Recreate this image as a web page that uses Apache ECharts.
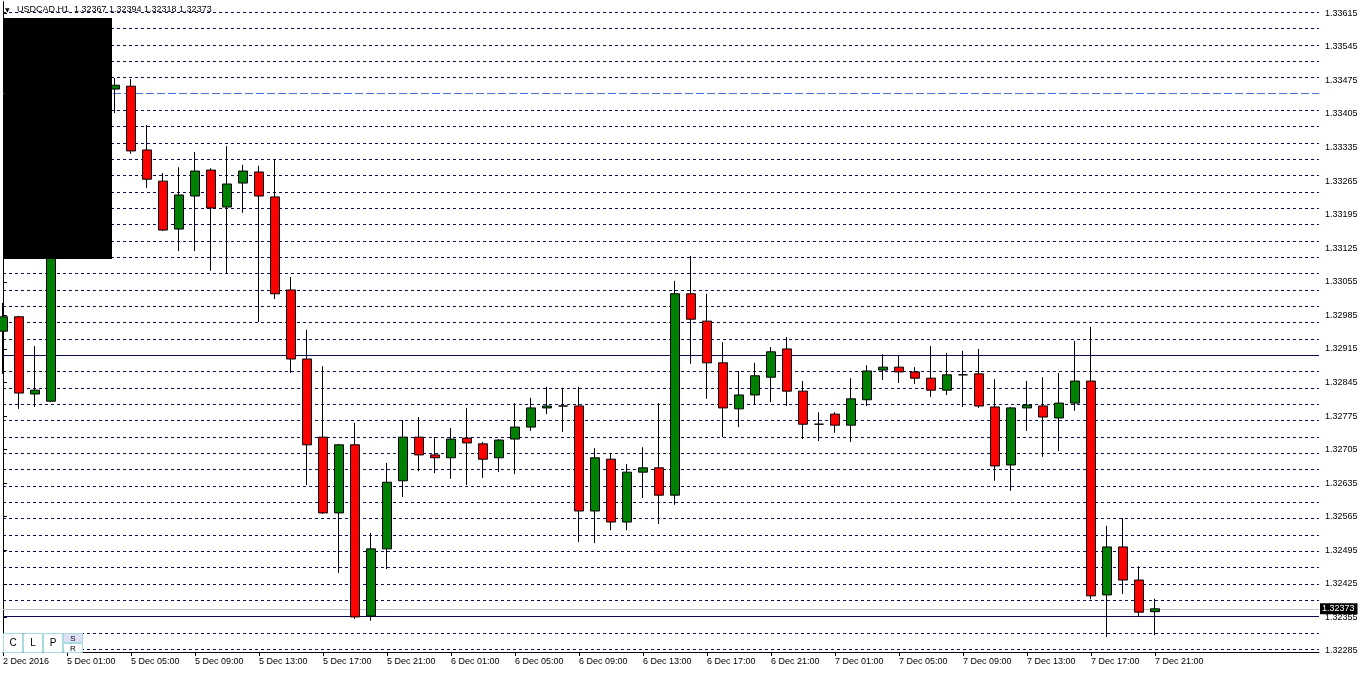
<!DOCTYPE html>
<html><head><meta charset="utf-8">
<script src="https://cdn.jsdelivr.net/npm/echarts@6/dist/echarts.min.js"></script>
<style>html,body{margin:0;padding:0;background:#fff}#c{width:1362px;height:675px}</style>
</head><body><div id="c"></div><script>
const opens = [1.32952,1.32982,1.32821,1.32806,1.33330,1.33413,1.33392,1.33457,1.33463,1.33330,
1.33265,1.33165,1.33234,1.33288,1.33211,1.33261,1.33284,1.33232,1.33038,1.32894,
1.32731,1.32573,1.32715,1.32358,1.32498,1.32640,1.32731,1.32694,1.32688,1.32729,
1.32717,1.32688,1.32727,1.32752,1.32792,1.32796,1.32796,1.32577,1.32685,1.32554,
1.32658,1.32667,1.32610,1.33030,1.32973,1.32886,1.32790,1.32819,1.32856,1.32915,
1.32827,1.32758,1.32779,1.32756,1.32809,1.32871,1.32877,1.32867,1.32854,1.32829,
1.32861,1.32863,1.32794,1.32673,1.32792,1.32796,1.32771,1.32802,1.32848,1.32402,
1.32502,1.32433,1.32367];
const closes = [1.32982,1.32823,1.32829,1.33330,1.33413,1.33392,1.33457,1.33465,1.33328,1.33269,
1.33163,1.33236,1.33286,1.33209,1.33259,1.33286,1.33234,1.33030,1.32894,1.32715,
1.32573,1.32715,1.32356,1.32498,1.32637,1.32731,1.32694,1.32688,1.32727,1.32719,
1.32685,1.32725,1.32752,1.32792,1.32796,1.32796,1.32577,1.32688,1.32554,1.32658,
1.32667,1.32610,1.33030,1.32977,1.32886,1.32792,1.32819,1.32859,1.32909,1.32827,
1.32758,1.32758,1.32756,1.32811,1.32869,1.32877,1.32867,1.32854,1.32829,1.32861,
1.32861,1.32796,1.32671,1.32792,1.32798,1.32773,1.32802,1.32848,1.32400,1.32502,
1.32433,1.32366,1.32373];
const highs = [1.33011,1.32984,1.32921,1.33351,1.33434,1.33445,1.33476,1.33480,1.33478,1.33382,
1.33282,1.33294,1.33326,1.33292,1.33338,1.33299,1.33297,1.33311,1.33065,1.32955,
1.32879,1.32717,1.32761,1.32531,1.32677,1.32767,1.32773,1.32731,1.32750,1.32792,
1.32721,1.32727,1.32802,1.32813,1.32836,1.32834,1.32836,1.32708,1.32698,1.32675,
1.32710,1.32802,1.33057,1.33109,1.33030,1.32929,1.32869,1.32886,1.32919,1.32940,
1.32848,1.32783,1.32783,1.32854,1.32881,1.32904,1.32902,1.32877,1.32921,1.32907,
1.32911,1.32915,1.32852,1.32794,1.32848,1.32856,1.32865,1.32932,1.32961,1.32546,
1.32562,1.32462,1.32394];
const lows = [1.32863,1.32790,1.32794,1.32804,1.33309,1.33372,1.33382,1.33407,1.33322,1.33251,
1.33161,1.33119,1.33119,1.33078,1.33073,1.33199,1.32971,1.33019,1.32865,1.32631,
1.32571,1.32448,1.32352,1.32348,1.32456,1.32606,1.32660,1.32656,1.32644,1.32631,
1.32646,1.32658,1.32654,1.32744,1.32779,1.32742,1.32512,1.32510,1.32537,1.32537,
1.32604,1.32550,1.32590,1.32884,1.32811,1.32731,1.32752,1.32800,1.32804,1.32796,
1.32727,1.32723,1.32740,1.32721,1.32796,1.32850,1.32844,1.32842,1.32815,1.32819,
1.32794,1.32792,1.32640,1.32619,1.32744,1.32690,1.32702,1.32786,1.32393,1.32314,
1.32404,1.32356,1.32318];

const xTickIndex = [0,4,8,12,16,20,24,28,32,36,40,44,48,52,56,60,64,68,72];
const xTickLabels = ['2 Dec 2016','5 Dec 01:00','5 Dec 05:00','5 Dec 09:00','5 Dec 13:00','5 Dec 17:00','5 Dec 21:00',
  '6 Dec 01:00','6 Dec 05:00','6 Dec 09:00','6 Dec 13:00','6 Dec 17:00','6 Dec 21:00',
  '7 Dec 01:00','7 Dec 05:00','7 Dec 09:00','7 Dec 13:00','7 Dec 17:00','7 Dec 21:00'];
const yTickLabels = [1.32285,1.32355,1.32425,1.32495,1.32565,1.32635,1.32705,1.32775,1.32845,1.32915,
  1.32985,1.33055,1.33125,1.33195,1.33265,1.33335,1.33405,1.33475,1.33545,1.33615];
const headerValues = [1.32367,1.32394,1.32318,1.32373];
const levelSolid = 1.329013;
const levelDashDot = 1.334478;
const levelBid = 1.32373;
const levelLower = 1.323569;

// chart grid (MT4 grid is independent of the price labels)
const gridTop = 1.33617, gridStep = 0.00034066, gridCount = 40, gridReplaced = [5, 21, 37];

const FONT = '"Liberation Sans", Arial, sans-serif';
const yMin = 1.322829, yMax = 1.336386;

const gridLevels = [];
for (let k = 0; k < gridCount; k++) {
  if (gridReplaced.indexOf(k) < 0) gridLevels.push(+(gridTop - k * gridStep).toFixed(6));
}

const candleData = opens.map((o, i) => [i, o, closes[i], lows[i], highs[i]]);

const chart = echarts.init(document.getElementById('c'), null, {renderer: 'canvas'});
const markData = [
  {yAxis: levelSolid, lineStyle: {color: '#0c0c50', width: 1, type: 'solid'}},
  {yAxis: levelDashDot, lineStyle: {color: '#4a6fd8', width: 1, type: [8, 3]}},
  {yAxis: levelLower, lineStyle: {color: '#0c0c50', width: 1, type: 'solid'}},
  {yAxis: levelBid, lineStyle: {color: '#c0c0c0', width: 1, type: 'solid'},
    label: {show: true, position: 'end', distance: 1, formatter: levelBid.toFixed(5),
      fontFamily: FONT, fontSize: 9, color: '#fff', backgroundColor: '#000', padding: [1, 3, 1, 2]}}
];

const btnStroke = '#a8dbe0';
const option = {
  animation: false,
  backgroundColor: '#fff',
  grid: {left: 3, right: 43, top: 2, bottom: 23, containLabel: false},
  xAxis: {
    type: 'value', min: 0, max: 82.25,
    axisLine: {show: true, lineStyle: {color: '#000', width: 1}},
    axisTick: {show: true, length: 4, lineStyle: {color: '#000'}, customValues: xTickIndex},
    axisLabel: {show: true, customValues: xTickIndex, margin: 5, align: 'left',
      fontFamily: FONT, fontSize: 9, color: '#000',
      formatter: v => { const k = xTickIndex.indexOf(Math.round(v)); return k >= 0 ? xTickLabels[k] : ''; }},
    splitLine: {show: false}
  },
  yAxis: [{
    type: 'value', position: 'right', min: yMin, max: yMax, scale: true,
    axisLine: {show: true, lineStyle: {color: '#000', width: 1}},
    axisTick: {show: true, length: 4, lineStyle: {color: '#000'}, customValues: yTickLabels},
    axisLabel: {show: true, customValues: yTickLabels, margin: 6, fontFamily: FONT, fontSize: 9, color: '#000',
      formatter: v => v.toFixed(5)},
    splitLine: {show: false}
  }, {
    type: 'value', position: 'left', min: yMin, max: yMax, scale: true,
    axisLine: {show: true, lineStyle: {color: '#000', width: 1}},
    axisTick: {show: false, customValues: gridLevels},
    axisLabel: {show: false, customValues: gridLevels},
    splitLine: {show: true, lineStyle: {color: '#0c0c50', width: 1, type: [3, 3]}}
  }],
  series: [{
    type: 'candlestick', xAxisIndex: 0, yAxisIndex: 0, z: 3, barWidth: 9, clip: false,
    encode: {x: 0, y: [1, 2, 3, 4]},
    data: candleData,
    itemStyle: {color: '#008000', color0: '#ff0000', borderColor: '#000', borderColor0: '#000', borderColorDoji: '#000', borderWidth: 1},
    emphasis: {disabled: true},
    markLine: {silent: true, z: 1, animation: false, symbol: ['none', 'none'], precision: 5,
      label: {show: false}, emphasis: {disabled: true}, data: markData}
  }],
  graphic: [
    {type: 'rect', z: 100, shape: {x: 4, y: 18, width: 108, height: 241}, style: {fill: '#000'}},
    {type: 'text', z: 100, x: 5, y: 10, style: {text: '\u25BC', font: '6px "DejaVu Sans"', fill: '#000', verticalAlign: 'middle'}},
    {type: 'text', z: 100, x: 17, y: 10, style: {text: 'USDCAD,H1  ' + headerValues.map(v => v.toFixed(5)).join(' '),
      font: '9px ' + FONT, fill: '#000', verticalAlign: 'middle'}},
    {type: 'rect', z: 100, shape: {x: 3.5, y: 633.5, width: 19, height: 19}, style: {fill: '#fff', stroke: btnStroke, lineWidth: 1}},
    {type: 'rect', z: 100, shape: {x: 23.5, y: 633.5, width: 19, height: 19}, style: {fill: '#fff', stroke: btnStroke, lineWidth: 1}},
    {type: 'rect', z: 100, shape: {x: 43.5, y: 633.5, width: 19, height: 19}, style: {fill: '#fff', stroke: btnStroke, lineWidth: 1}},
    {type: 'rect', z: 100, shape: {x: 63.5, y: 633.5, width: 19, height: 9}, style: {fill: '#dfe0f5', stroke: btnStroke, lineWidth: 1}},
    {type: 'rect', z: 100, shape: {x: 63.5, y: 643.5, width: 19, height: 9}, style: {fill: '#fff', stroke: btnStroke, lineWidth: 1}},
    {type: 'text', z: 101, x: 13, y: 643.5, style: {text: 'C', font: '10px ' + FONT, fill: '#000', align: 'center', verticalAlign: 'middle'}},
    {type: 'text', z: 101, x: 33, y: 643.5, style: {text: 'L', font: '10px ' + FONT, fill: '#000', align: 'center', verticalAlign: 'middle'}},
    {type: 'text', z: 101, x: 53, y: 643.5, style: {text: 'P', font: '10px ' + FONT, fill: '#000', align: 'center', verticalAlign: 'middle'}},
    {type: 'text', z: 101, x: 73, y: 638.5, style: {text: 'S', font: '8px ' + FONT, fill: '#000', align: 'center', verticalAlign: 'middle'}},
    {type: 'text', z: 101, x: 73, y: 648.5, style: {text: 'R', font: '8px ' + FONT, fill: '#000', align: 'center', verticalAlign: 'middle'}}
  ]
};
chart.setOption(option);
</script></body></html>
